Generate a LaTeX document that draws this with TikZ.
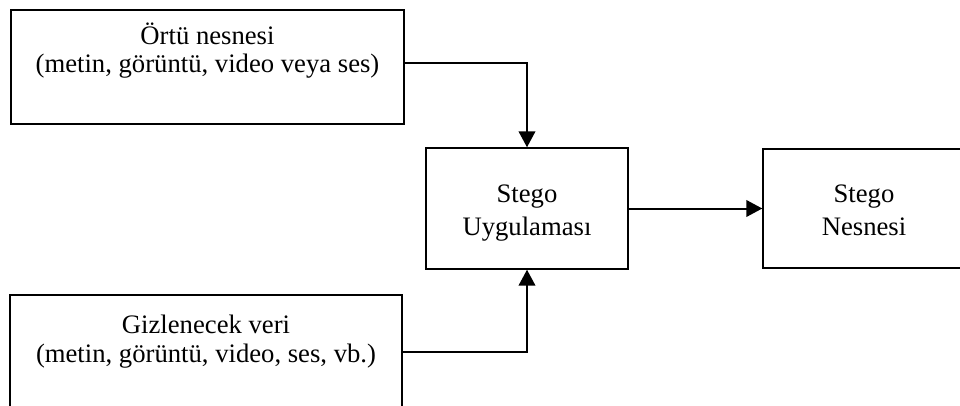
\documentclass[tikz,border=0pt]{standalone}
\usepackage{fontspec}
\setmainfont{Liberation Serif}
\usetikzlibrary{arrows.meta}
\tikzset{
  box/.style={draw, line width=1.1pt, rectangle, inner sep=0pt},
  lbl/.style={anchor=base, inner sep=0pt, font=\fontsize{20pt}{24pt}\selectfont},
  conn/.style={line width=1.5pt, -{Triangle[length=12pt,width=12.5pt]}},
}
\begin{document}
\begin{tikzpicture}[x=0.75pt, y=-0.75pt]
  \clip (0,0) rectangle (960,406);
  \fill[white] (0,0) rectangle (960,406);

  % boxes
  \node[box, minimum width=294.75pt, minimum height=85.5pt] (cover) at (207.5,67) {};
  \node[box, minimum width=151.5pt, minimum height=90.75pt] (app) at (527,208.5) {};
  \node[box, minimum width=151.5pt, minimum height=89.25pt] (out) at (864,208.5) {};
  \node[box, minimum width=294pt, minimum height=85.5pt] (hidden) at (206,352) {};

  % labels
  \node[lbl] (cover1) at (207.5,45) {Örtü nesnesi};
  \node[lbl] (cover2) at (207.5,73) {(metin, görüntü, video veya ses)};
  \node[lbl] (app1) at (527,203) {Stego};
  \node[lbl] (app2) at (527,235) {Uygulaması};
  \node[lbl] (out1) at (864,203) {Stego};
  \node[lbl] (out2) at (864,235) {Nesnesi};
  \node[lbl] (hidden1) at (206,333) {Gizlenecek veri};
  \node[lbl] (hidden2) at (206,362) {(metin, görüntü, video, ses, vb.)};

  % connectors
  \draw[conn] ([yshift=3pt]cover.east) -| (app.north);
  \draw[conn] (hidden.east) -| (app.south);
  \draw[conn] (app.east) -- (out.west);
\end{tikzpicture}
\end{document}
